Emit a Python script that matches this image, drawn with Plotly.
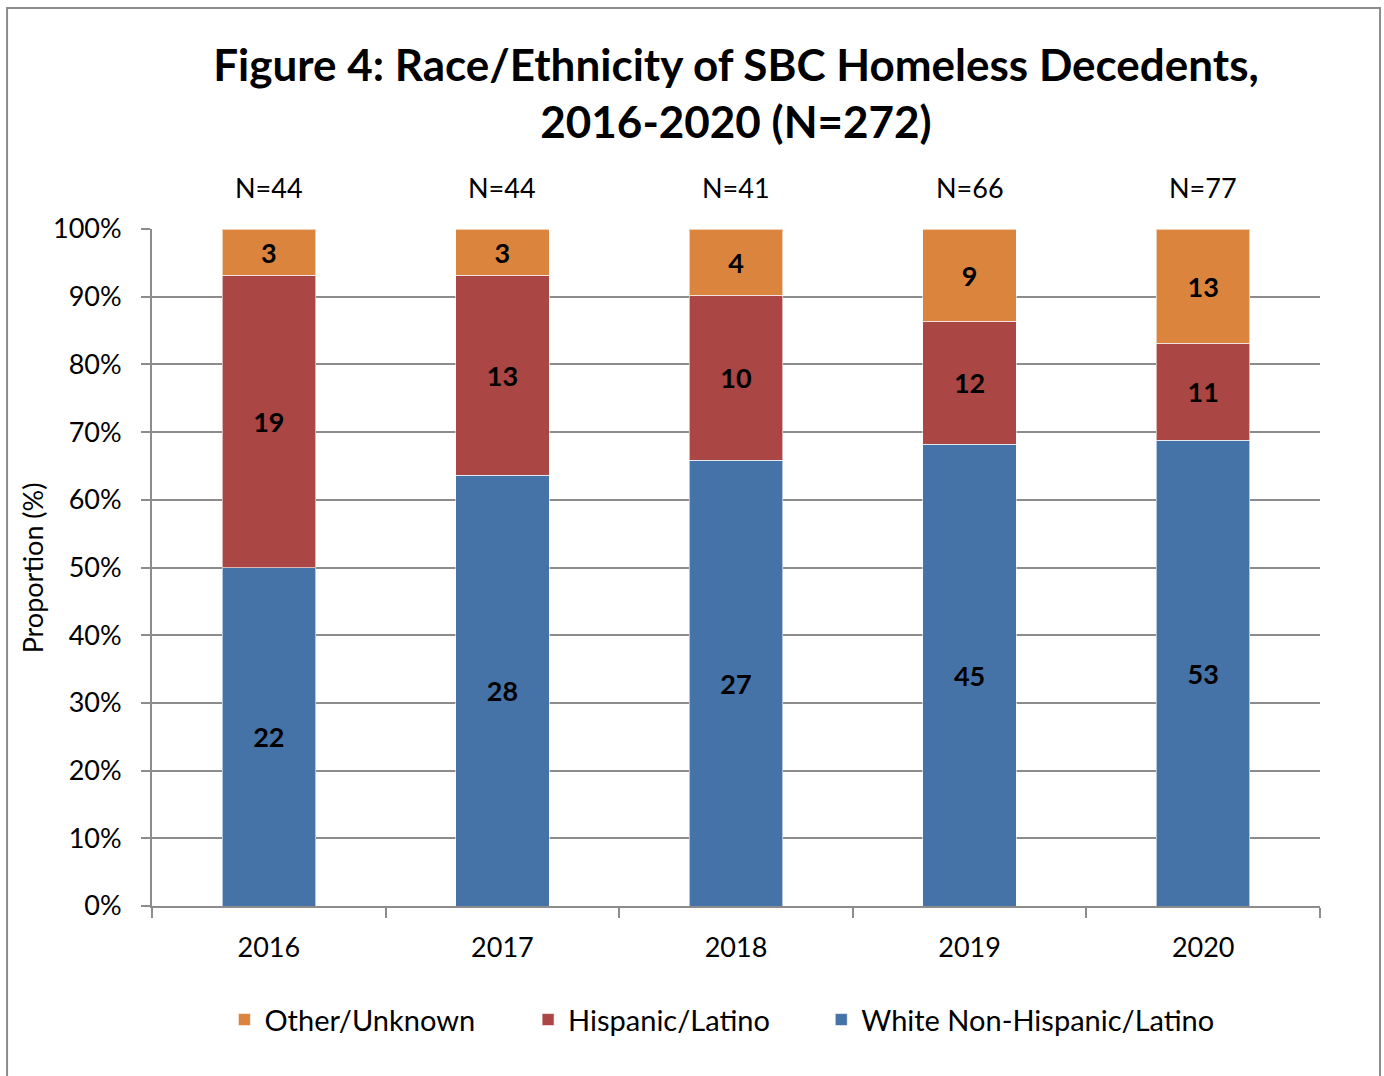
import plotly.graph_objects as go

# ── Data ──────────────────────────────────────────────────────────────────────
YEARS    = ['2016', '2017', '2018', '2019', '2020']
WHITE    = [22, 28, 27, 45, 53]
HISPANIC = [19, 13, 10, 12, 11]
OTHER    = [3, 3, 4, 9, 13]
Y_TICKS  = [0, 10, 20, 30, 40, 50, 60, 70, 80, 90, 100]

# name, counts, colour, legend id, legend x (paper)
SERIES = [
    ('White Non-Hispanic/Latino', WHITE,    '#4572A7', 'legend3', 0.573),
    ('Hispanic/Latino',           HISPANIC, '#AA4643', 'legend2', 0.322),
    ('Other/Unknown',             OTHER,    '#DB843D', 'legend',  0.062),
]
TOTALS = [w + h + o for w, h, o in zip(WHITE, HISPANIC, OTHER)]

FONT = 'Lato, Open Sans, sans-serif'
GRID = '#8c8c8c'

fig = go.Figure()
for name, vals, color, leg, _ in SERIES:
    fig.add_trace(go.Bar(
        x=YEARS, y=vals, name=name, legend=leg,
        marker=dict(color=color, line=dict(color='rgba(255,255,255,0.6)', width=1)),
        width=0.4,
        text=vals, texttemplate='<b>%{text}</b>',
        textposition='inside', insidetextanchor='middle',
        constraintext='none',
        textfont=dict(size=27, color='black', family=FONT),
    ))

# N= labels above each bar (category index positions)
for i, n in enumerate(TOTALS):
    fig.add_annotation(
        x=i, y=1.062, xref='x', yref='paper', text=f'N={n}',
        xanchor='center', yanchor='middle',
        showarrow=False, font=dict(size=27, color='black', family=FONT),
    )

# y-axis title
fig.add_annotation(
    x=-0.102, y=0.5, xref='paper', yref='paper', text='Proportion (%)',
    xanchor='center', yanchor='middle',
    textangle=-90, showarrow=False, font=dict(size=27, color='black', family=FONT),
)

# outer frame
fig.add_shape(type='rect', xref='paper', yref='paper',
              x0=-0.1241, x1=1.0514, y0=-0.26, y1=1.3264,
              line=dict(color='#8c8c8c', width=2))

legend_style = dict(
    orientation='h', y=-0.168, yanchor='middle', xanchor='left',
    font=dict(size=29, color='black', family=FONT),
    itemwidth=30, bgcolor='rgba(0,0,0,0)',
)
legends = {leg: dict(legend_style, x=lx) for _, _, _, leg, lx in SERIES}

fig.update_layout(
    width=1384, height=1076,
    barmode='stack', barnorm='percent',
    paper_bgcolor='white', plot_bgcolor='white',
    margin=dict(l=152, r=64, t=229, b=170),
    font=dict(family=FONT, color='black'),
    title=dict(
        text='<b>Figure 4: Race/Ethnicity of SBC Homeless Decedents,<br>2016-2020 (N=272)</b>',
        x=0.5, xref='paper', xanchor='center',
        y=0.925, yref='container', yanchor='middle',
        font=dict(size=44, color='black', family=FONT),
    ),
    showlegend=True,
    **legends,
    xaxis=dict(
        type='category',
        tickson='boundaries', ticks='outside', ticklen=10, tickcolor=GRID, tickwidth=2,
        showline=True, linecolor=GRID, linewidth=2, showgrid=False,
        tickfont=dict(size=27, color='black', family=FONT),
        ticklabelstandoff=17,
    ),
    yaxis=dict(
        range=[0, 100], tickvals=Y_TICKS, ticktext=[f'{t}%' for t in Y_TICKS],
        ticks='outside', ticklen=9, tickcolor=GRID, tickwidth=2,
        showline=True, linecolor=GRID, linewidth=2,
        showgrid=True, gridcolor=GRID, gridwidth=2, zeroline=False,
        tickfont=dict(size=27, color='black', family=FONT),
        ticklabelstandoff=14,
    ),
)

fig.write_html('out.html', config={'displayModeBar': False},
               post_script="document.body.style.margin='0';")
